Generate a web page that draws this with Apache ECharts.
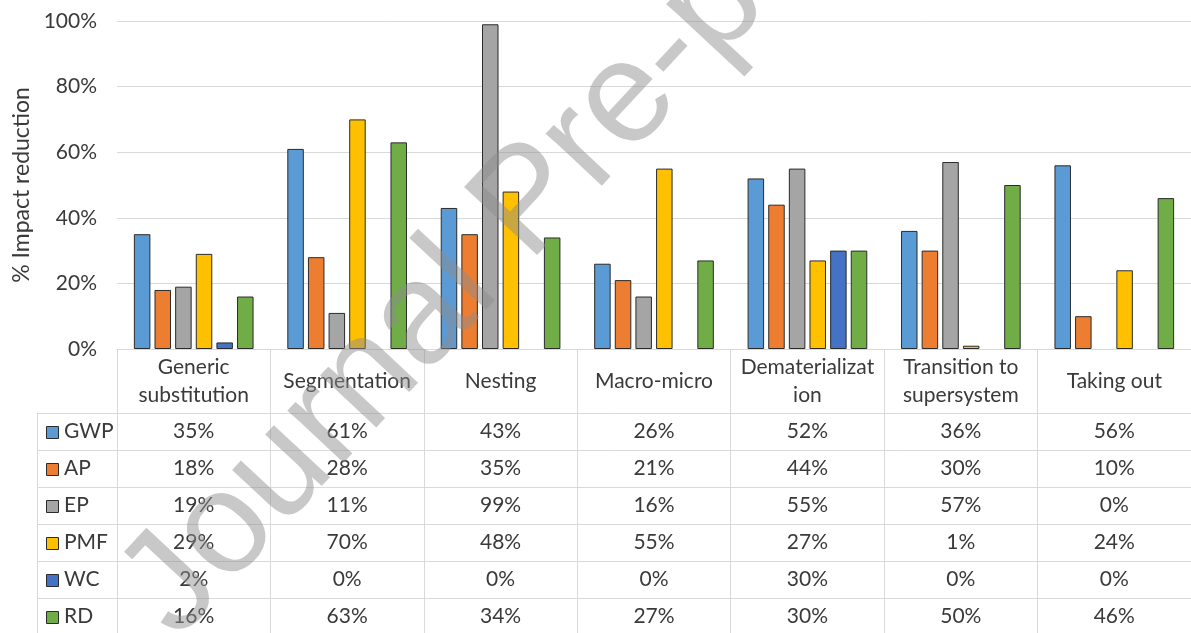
<!DOCTYPE html>
<html>
<head>
<meta charset="utf-8">
<script src="https://cdn.jsdelivr.net/npm/echarts@6/dist/echarts.min.js"></script>
<style>
  html, body { margin: 0; padding: 0; background: #fff; }
  #chart { width: 1191px; height: 633px; }
</style>
</head>
<body>
<div id="chart"></div>
<script>
// Impact reduction per design principle, with its data table underneath
const categories = ['Generic\nsubstitution', 'Segmentation', 'Nesting', 'Macro-micro',
                    'Dematerializat\nion', 'Transition to\nsupersystem', 'Taking out'];
const seriesNames = ['GWP', 'AP', 'EP', 'PMF', 'WC', 'RD'];
const gwp = [35, 61, 43, 26, 52, 36, 56];
const ap  = [18, 28, 35, 21, 44, 30, 10];
const ep  = [19, 11, 99, 16, 55, 57, 0];
const pmf = [29, 70, 48, 55, 27, 1, 24];
const wc  = [2, 0, 0, 0, 30, 0, 0];
const rd  = [16, 63, 34, 27, 30, 50, 46];
const yTicks = [0, 20, 40, 60, 80, 100];

const seriesValues = [gwp, ap, ep, pmf, wc, rd];
const colors = ['#5B9BD5', '#ED7D31', '#A5A5A5', '#FFC000', '#4472C4', '#70AD47'];

const FONT = 'Lato, "Open Sans", sans-serif';
const TEXT = '#3a3a3a';
const LINE = '#d9d9d9';

const GRID_LEFT = 117, GRID_TOP = 21, GRID_W = 1081, GRID_H = 328;
const HEADER_H = 64, ROW_H = 37, KEY_LEFT = 37;

const chart = echarts.init(document.getElementById('chart'), null, { renderer: 'canvas' });

chart.setOption({
  animation: false,
  backgroundColor: '#fff',
  grid: { left: GRID_LEFT, top: GRID_TOP, width: GRID_W, height: GRID_H, containLabel: false },
  xAxis: {
    type: 'category',
    data: categories,
    axisLine: { show: true, lineStyle: { color: LINE, width: 1 } },
    axisTick: { show: true, length: HEADER_H + ROW_H * 6 + 5, lineStyle: { color: LINE, width: 1 } },
    axisLabel: { show: false }
  },
  yAxis: {
    type: 'value',
    min: yTicks[0],
    max: yTicks[yTicks.length - 1],
    interval: yTicks[1] - yTicks[0],
    name: '% Impact reduction',
    nameLocation: 'middle',
    nameGap: 84,
    nameTextStyle: { fontFamily: FONT, fontSize: 23, color: TEXT },
    axisLine: { show: false },
    axisTick: { show: false },
    axisLabel: { formatter: '{value}%', fontFamily: FONT, fontSize: 21, color: TEXT, margin: 20 },
    splitLine: { lineStyle: { color: LINE, width: 1 } }
  },
  series: seriesNames.map((name, s) => ({
    name,
    type: 'bar',
    barGap: '25%',
    barCategoryGap: '22%',
    itemStyle: { color: colors[s], borderColor: '#2b2b2b', borderWidth: 1 },
    data: seriesValues[s].map(v => v === 0 ? { value: v, itemStyle: { borderWidth: 0 } } : v)
  }))
});

// Data table below the plot, laid out from the category axis
const axisY = chart.convertToPixel({ yAxisIndex: 0 }, 0);
const rightEdge = GRID_LEFT + GRID_W;
const graphics = [];

const tableTop = axisY + HEADER_H;
const tableBottom = tableTop + ROW_H * seriesNames.length + 5;
for (let r = 0; r <= seriesNames.length; r++) {
  const y = Math.round(tableTop + r * ROW_H) + 0.5;
  graphics.push({ type: 'line', shape: { x1: KEY_LEFT, y1: y, x2: rightEdge, y2: y },
                  style: { stroke: LINE, lineWidth: 1 }, silent: true });
}
graphics.push({ type: 'line', shape: { x1: KEY_LEFT + 0.5, y1: tableTop, x2: KEY_LEFT + 0.5, y2: tableBottom },
                style: { stroke: LINE, lineWidth: 1 }, silent: true });

categories.forEach((cat, i) => {
  const cx = chart.convertToPixel({ xAxisIndex: 0 }, i);
  graphics.push({
    type: 'text', silent: true,
    style: { x: cx, y: axisY + HEADER_H / 2, text: cat, align: 'center', verticalAlign: 'middle',
             fontFamily: FONT, fontSize: 21, lineHeight: 28, fill: TEXT }
  });
  seriesNames.forEach((name, s) => {
    graphics.push({
      type: 'text', silent: true,
      style: { x: cx, y: tableTop + (s + 0.5) * ROW_H, text: seriesValues[s][i] + '%',
               align: 'center', verticalAlign: 'middle', fontFamily: FONT, fontSize: 21, fill: TEXT }
    });
  });
});

seriesNames.forEach((name, s) => {
  const cy = tableTop + (s + 0.5) * ROW_H;
  graphics.push({ type: 'rect', silent: true,
                  shape: { x: 46.5, y: Math.round(cy - 6) + 0.5, width: 12, height: 12 },
                  style: { fill: colors[s], stroke: '#2b2b2b', lineWidth: 1 } });
  graphics.push({ type: 'text', silent: true,
                  style: { x: 64, y: cy, text: name, align: 'left', verticalAlign: 'middle',
                           fontFamily: FONT, fontSize: 21, fill: TEXT } });
});

// Pre-proof stamp across the figure
graphics.push({
  type: 'text', silent: true, z: 100,
  x: 530, y: 204, rotation: 47 * Math.PI / 180,
  style: { x: 0, y: 0, text: 'Journal Pre-proof', align: 'center', verticalAlign: 'middle',
           fontFamily: '"Liberation Sans", Arial, sans-serif', fontSize: 145,
           fill: 'rgba(140,140,140,0.48)' }
});

chart.setOption({ graphic: graphics });
</script>
</body>
</html>
